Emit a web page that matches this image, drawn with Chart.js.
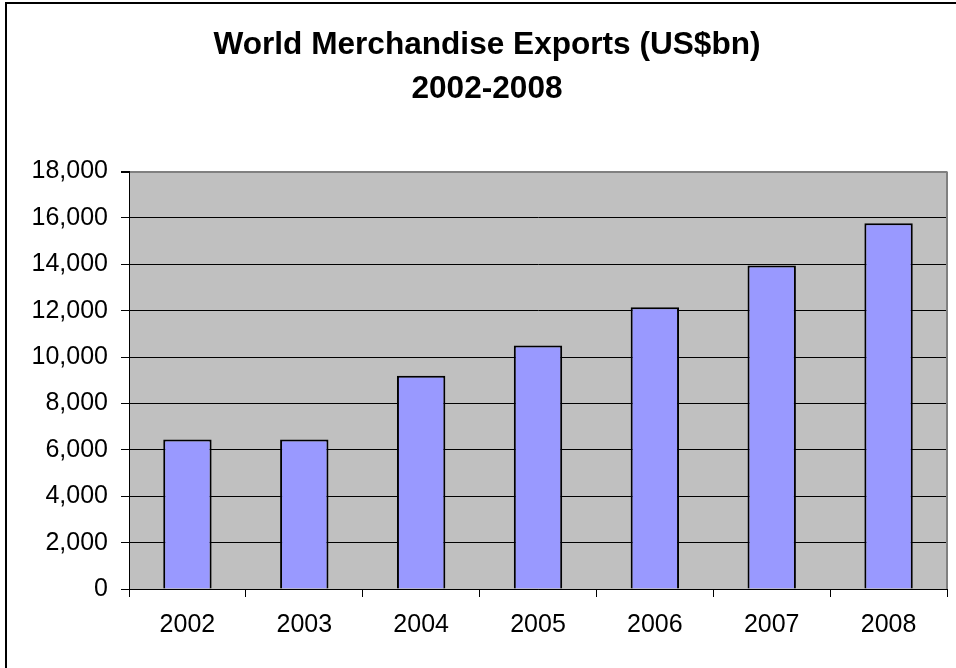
<!DOCTYPE html>
<html>
<head>
<meta charset="utf-8">
<script src="https://cdn.jsdelivr.net/npm/chart.js@4.4.0/dist/chart.umd.min.js"></script>
<style>
  body { margin: 0; background: #fff; overflow: hidden; }
</style>
</head>
<body>
<canvas id="myChart" width="974" height="668"></canvas>
<script>
// data
const years = ['2002', '2003', '2004', '2005', '2006', '2007', '2008'];
const exportsBn = [6450, 6450, 9200, 10500, 12150, 13950, 15775];
const titleLines = ['World Merchandise Exports (US$bn)', '2002-2008'];
const yMin = 0;
const yMax = 18000;
const yStep = 2000;

// grey plot area + outer frame (the frame runs off the right/bottom like the crop)
const excelLook = {
    id: 'excelLook',
    beforeDraw(chart) {
        const c = chart.ctx, a = chart.chartArea;
        c.save();
        c.fillStyle = '#fff';
        c.fillRect(0, 0, chart.width, chart.height);
        c.fillStyle = '#c0c0c0';
        c.fillRect(a.left, a.top, a.right - a.left, a.bottom - a.top);
        c.restore();
    },
    afterDraw(chart) {
        const c = chart.ctx, a = chart.chartArea;
        c.save();
        // right border of plot area
        c.strokeStyle = '#808080';
        c.lineWidth = 2;
        c.beginPath();
        c.moveTo(a.right, a.top);
        c.lineTo(a.right, a.bottom);
        c.stroke();
        // chart frame
        c.strokeStyle = '#000';
        c.lineWidth = 2;
        c.strokeRect(6, 3, 962, 700);
        c.restore();
    }
};

var ctx = document.getElementById('myChart').getContext('2d');
var myChart = new Chart(ctx, {
    type: 'bar',
    data: {
        labels: years,
        datasets: [{
            label: 'Exports',
            data: exportsBn,
            backgroundColor: '#9999ff',
            borderColor: '#000',
            borderWidth: 2,
            barPercentage: 0.414,
            categoryPercentage: 1
        }]
    },
    options: {
        responsive: false,
        animation: false,
        layout: {
            padding: { left: 27, right: 27, top: 0, bottom: 0 }
        },
        plugins: {
            legend: { display: false },
            tooltip: { enabled: false },
            title: {
                display: true,
                text: titleLines,
                color: '#000',
                font: { family: "'Liberation Sans', Arial, sans-serif", size: 31.6, weight: 'bold', lineHeight: 1.37 },
                padding: { top: 24, bottom: 61 }
            }
        },
        scales: {
            x: {
                afterFit: function (scale) { scale.height = 79; },
                grid: {
                    offset: true,
                    drawOnChartArea: false,
                    drawTicks: true,
                    tickLength: 8,
                    tickColor: '#000'
                },
                border: { display: true, color: '#000', width: 1 },
                ticks: {
                    color: '#000',
                    padding: 13,
                    font: { family: "'Liberation Sans', Arial, sans-serif", size: 25 }
                }
            },
            y: {
                min: yMin,
                max: yMax,
                afterFit: function (scale) { scale.width = 102; },
                grid: {
                    color: function (c) { return c.tick && c.tick.value === yMax ? '#808080' : '#000'; },
                    lineWidth: function (c) { return c.tick && c.tick.value === yMax ? 2 : 1; },
                    tickLength: 8,
                    tickColor: '#000'
                },
                border: { display: true, color: '#000', width: 1 },
                ticks: {
                    stepSize: yStep,
                    color: '#000',
                    padding: 13,
                    font: { family: "'Liberation Sans', Arial, sans-serif", size: 25 },
                    callback: function (v) { return v.toLocaleString('en-US'); }
                }
            }
        }
    },
    plugins: [excelLook]
});
</script>
</body>
</html>
